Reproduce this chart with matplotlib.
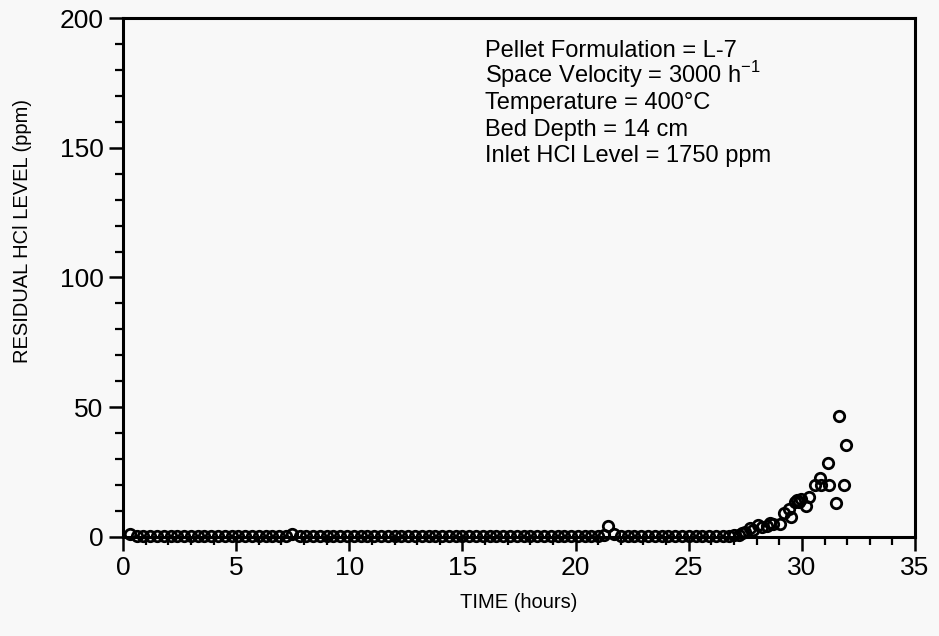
import numpy as np
import matplotlib
matplotlib.use("Agg")
import matplotlib.pyplot as plt
from matplotlib.ticker import MultipleLocator

plt.rcParams['font.family'] = ['Liberation Sans', 'DejaVu Sans']

# Baseline readings (essentially zero residual HCl)
base_time = [0.3, 0.6, 0.9, 1.2, 1.5, 1.8, 2.1, 2.4, 2.7, 3.0,
             3.3, 3.6, 3.9, 4.2, 4.5, 4.8, 5.1, 5.4, 5.7, 6.0,
             6.3, 6.6, 6.9, 7.2, 7.45, 7.8, 8.1, 8.4, 8.7, 9.0,
             9.3, 9.6, 9.9, 10.2, 10.5, 10.8, 11.1, 11.4, 11.7, 12.0,
             12.3, 12.6, 12.9, 13.2, 13.5, 13.8, 14.1, 14.4, 14.7, 15.0,
             15.3, 15.6, 15.9, 16.2, 16.5, 16.8, 17.1, 17.4, 17.7, 18.0,
             18.3, 18.6, 18.9, 19.2, 19.5, 19.8, 20.1, 20.4, 20.7, 21.0,
             21.25, 21.45, 21.7, 22.0, 22.3, 22.6, 22.9, 23.2, 23.5, 23.8,
             24.1, 24.4, 24.7, 25.0, 25.3, 25.6, 25.9, 26.2, 26.5, 26.8,
             27.0]
base_hcl = [1.0, 0.3, 0.2, 0.3, 0.2, 0.2, 0.3, 0.2, 0.3, 0.2,
            0.3, 0.2, 0.2, 0.3, 0.2, 0.3, 0.2, 0.3, 0.2, 0.3,
            0.3, 0.2, 0.3, 0.3, 1.2, 0.3, 0.2, 0.3, 0.2, 0.3,
            0.2, 0.3, 0.2, 0.3, 0.2, 0.3, 0.2, 0.3, 0.2, 0.3,
            0.2, 0.3, 0.2, 0.3, 0.2, 0.3, 0.2, 0.3, 0.2, 0.3,
            0.2, 0.3, 0.2, 0.3, 0.2, 0.3, 0.2, 0.3, 0.2, 0.3,
            0.2, 0.3, 0.2, 0.3, 0.2, 0.3, 0.2, 0.3, 0.2, 0.3,
            0.5, 4.0, 1.0, 0.3, 0.2, 0.3, 0.2, 0.3, 0.2, 0.3,
            0.2, 0.3, 0.2, 0.3, 0.2, 0.3, 0.2, 0.3, 0.2, 0.3,
            0.5]

# Breakthrough readings
break_time = [27.2, 27.34, 27.5, 27.7, 27.85, 28.07, 28.25, 28.44, 28.6, 28.74,
              29.03, 29.2, 29.43, 29.5, 29.7, 29.77, 29.85, 29.95, 30.2, 30.3,
              30.58, 30.8, 30.85, 31.17, 31.2, 31.5, 31.64, 31.86, 31.95]
break_hcl = [0.8, 1.4, 2.0, 3.3, 2.5, 4.4, 3.8, 4.0, 5.3, 5.0,
             5.0, 9.1, 10.7, 7.8, 13.5, 14.2, 13.6, 14.5, 11.7, 15.5,
             20.0, 22.6, 20.0, 28.4, 20.0, 13.2, 46.6, 20.0, 35.5]

time = base_time + break_time
hcl = base_hcl + break_hcl

conditions = ['Pellet Formulation = L-7',
              'Space Velocity = 3000 h$^{\\mathregular{-1}}$',
              'Temperature = 400\u00b0C',
              'Bed Depth = 14 cm',
              'Inlet HCl Level = 1750 ppm']

fig = plt.figure(figsize=(9.39, 6.36), dpi=100, facecolor='#f8f8f8')
ax = fig.add_axes([0.131, 0.156, 0.8435, 0.8155])
ax.set_facecolor('#f8f8f8')

ax.plot(time, hcl, 'o', mfc='none', mec='black', ms=7.5, mew=2.0, clip_on=False)

ax.set_xlim(0, 35)
ax.set_ylim(0, 200)
ax.xaxis.set_major_locator(MultipleLocator(5))
ax.xaxis.set_minor_locator(MultipleLocator(1))
ax.yaxis.set_major_locator(MultipleLocator(50))
ax.yaxis.set_minor_locator(MultipleLocator(10))
ax.tick_params(which='major', length=10, width=1.8, labelsize=19, direction='out')
ax.tick_params(axis='x', which='major', pad=4)
ax.tick_params(axis='y', which='major', pad=4)
ax.tick_params(which='minor', length=5.5, width=1.6, direction='out')
for s in ax.spines.values():
    s.set_linewidth(2.2)

ax.set_xlabel('TIME (hours)', fontsize=14.5)
ax.xaxis.set_label_coords(0.5, -0.108)
ax.set_ylabel('RESIDUAL HCl LEVEL (ppm)', fontsize=14.5)
ax.yaxis.set_label_coords(-0.115, 0.59)

# one line of the conditions box per text, evenly spaced
for i, line in enumerate(conditions):
    ax.text(0.457, 0.925 - i * 0.0505, line, transform=ax.transAxes,
            fontsize=17, va='baseline', ha='left')

fig.savefig('out.png', dpi=100, facecolor=fig.get_facecolor())
